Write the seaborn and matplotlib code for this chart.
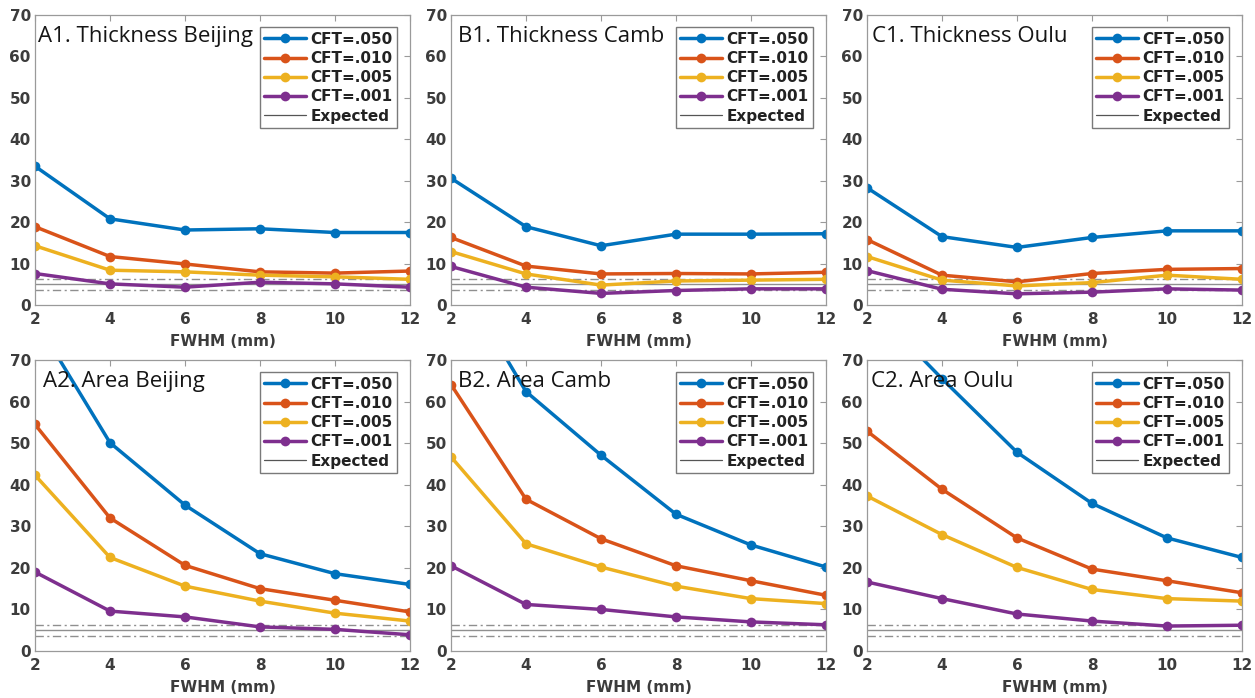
import numpy as np
import pandas as pd
import matplotlib
matplotlib.use("Agg")
import matplotlib.pyplot as plt
import seaborn as sns
from matplotlib.lines import Line2D

# ---------------- data ----------------
fwhm = [2, 4, 6, 8, 10, 12]
cft_labels = ["CFT=.050", "CFT=.010", "CFT=.005", "CFT=.001"]
cft_colors = ["#0072BD", "#D95319", "#EDB120", "#7E2F8E"]

expected_mid = 5.0
expected_lo = 3.65
expected_hi = 6.3

thick_beijing_050 = [33.5, 20.8, 18.1, 18.4, 17.5, 17.5]
thick_beijing_010 = [18.9, 11.7, 9.9, 8.0, 7.7, 8.2]
thick_beijing_005 = [14.3, 8.4, 8.0, 7.2, 6.8, 6.2]
thick_beijing_001 = [7.6, 5.1, 4.3, 5.5, 5.1, 4.3]

thick_camb_050 = [30.6, 18.9, 14.3, 17.1, 17.1, 17.2]
thick_camb_010 = [16.3, 9.4, 7.5, 7.6, 7.5, 7.9]
thick_camb_005 = [12.9, 7.5, 4.8, 5.8, 6.0, 6.2]
thick_camb_001 = [9.3, 4.3, 2.8, 3.5, 3.9, 3.9]

thick_oulu_050 = [28.3, 16.5, 13.9, 16.3, 17.9, 17.9]
thick_oulu_010 = [15.8, 7.2, 5.6, 7.6, 8.6, 8.8]
thick_oulu_005 = [11.7, 6.0, 4.6, 5.4, 7.2, 6.2]
thick_oulu_001 = [8.3, 3.8, 2.7, 3.1, 3.9, 3.6]

area_beijing_050 = [79.8, 50.1, 35.1, 23.4, 18.6, 16.0]
area_beijing_010 = [54.5, 32.0, 20.6, 15.0, 12.2, 9.4]
area_beijing_005 = [42.3, 22.5, 15.6, 12.0, 9.1, 7.2]
area_beijing_001 = [19.0, 9.6, 8.2, 5.8, 5.2, 3.9]

area_camb_050 = [92.8, 62.4, 47.1, 32.9, 25.5, 20.2]
area_camb_010 = [64.1, 36.5, 27.0, 20.5, 16.9, 13.4]
area_camb_005 = [46.7, 25.8, 20.2, 15.6, 12.6, 11.4]
area_camb_001 = [20.5, 11.2, 10.0, 8.2, 7.0, 6.3]

area_oulu_050 = [84.0, 65.5, 47.8, 35.5, 27.2, 22.5]
area_oulu_010 = [52.9, 38.9, 27.2, 19.7, 16.9, 14.0]
area_oulu_005 = [37.3, 28.0, 20.1, 14.8, 12.6, 12.0]
area_oulu_001 = [16.6, 12.6, 8.9, 7.2, 6.0, 6.2]

panel_titles = ["A1. Thickness Beijing", "B1. Thickness Camb", "C1. Thickness Oulu",
                "A2. Area Beijing", "B2. Area Camb", "C2. Area Oulu"]
panel_series = [
    [thick_beijing_050, thick_beijing_010, thick_beijing_005, thick_beijing_001],
    [thick_camb_050, thick_camb_010, thick_camb_005, thick_camb_001],
    [thick_oulu_050, thick_oulu_010, thick_oulu_005, thick_oulu_001],
    [area_beijing_050, area_beijing_010, area_beijing_005, area_beijing_001],
    [area_camb_050, area_camb_010, area_camb_005, area_camb_001],
    [area_oulu_050, area_oulu_010, area_oulu_005, area_oulu_001],
]
y_ticks = [0, 10, 20, 30, 40, 50, 60, 70]

# ---------------- style ----------------
sns.set_theme(style="white")
plt.rcParams["font.family"] = ["DejaVu Sans"]

W, H = 1255, 698
fig = plt.figure(figsize=(W / 100, H / 100), dpi=100)
fig.patch.set_facecolor("white")

lefts = [35, 451, 867]
tops = [15, 360]
heights = [290, 291]
width = 375
title_x = [0.008, 0.018, 0.013, 0.022, 0.018, 0.011]

spine_col = "#9a9a9a"
tick_lab_col = "#3c3c3c"

for i, (title, series) in enumerate(zip(panel_titles, panel_series)):
    r, c = divmod(i, 3)
    ax = fig.add_axes([lefts[c] / W, 1 - (tops[r] + heights[r]) / H,
                       width / W, heights[r] / H])
    rows = []
    for lab, vals in zip(cft_labels, series):
        for xv, yv in zip(fwhm, vals):
            rows.append({"FWHM": xv, "value": yv, "CFT": lab})
    df = pd.DataFrame(rows)

    dd = (0, (6, 2.5, 1.5, 2.5))
    ax.axhline(expected_hi, color="#8f8f8f", lw=1.0, ls=dd, zorder=1.5)
    ax.axhline(expected_mid, color="#8f8f8f", lw=1.0, zorder=1.5)
    ax.axhline(expected_lo, color="#8f8f8f", lw=1.0, ls=dd, zorder=1.5)

    sns.lineplot(data=df, x="FWHM", y="value", hue="CFT", hue_order=cft_labels,
                 palette=cft_colors, marker="o", markersize=7, markeredgewidth=0,
                 linewidth=2.5, ax=ax, legend=False, zorder=2)

    ax.set_xlim(2, 12)
    ax.set_ylim(0, 70)
    ax.set_xticks(fwhm)
    ax.set_xticklabels([str(v) for v in fwhm], fontweight="bold")
    ax.set_yticks(y_ticks)
    ax.set_yticklabels([str(v) for v in y_ticks], fontweight="bold")
    ax.tick_params(direction="in", top=True, right=True, length=4, width=0.8,
                   color=spine_col, labelcolor=tick_lab_col, labelsize=11)
    ax.tick_params(axis="x", pad=5)
    ax.tick_params(axis="y", pad=3)
    ax.set_xlabel("FWHM (mm)", fontsize=11, fontweight="bold", color=tick_lab_col,
                  labelpad=5)
    ax.set_ylabel("")
    for sp in ax.spines.values():
        sp.set_color(spine_col)
        sp.set_linewidth(0.9)

    ax.text(title_x[i], 0.907, title, transform=ax.transAxes, fontsize=16,
            family="Open Sans", color="#151515", ha="left", va="baseline", zorder=3)

    handles = [Line2D([0], [0], color=col, lw=2.5, marker="o", markersize=7,
                      markeredgewidth=0) for col in cft_colors]
    handles.append(Line2D([0], [0], color="#555555", lw=0.9))
    leg = ax.legend(handles, cft_labels + ["Expected"], loc="upper right",
                    bbox_to_anchor=(1 - 13 / width, 1 - 12 / heights[r]),
                    borderaxespad=0, frameon=True, fancybox=False,
                    edgecolor="#7a7a7a", framealpha=1,
                    prop={"weight": "bold", "size": 11},
                    handlelength=2.7, handletextpad=0.3, labelspacing=0.28,
                    borderpad=0.3)
    leg.get_frame().set_linewidth(1.0)
    for t in leg.get_texts():
        t.set_color("#222222")

fig.savefig("out.png", dpi=100)
